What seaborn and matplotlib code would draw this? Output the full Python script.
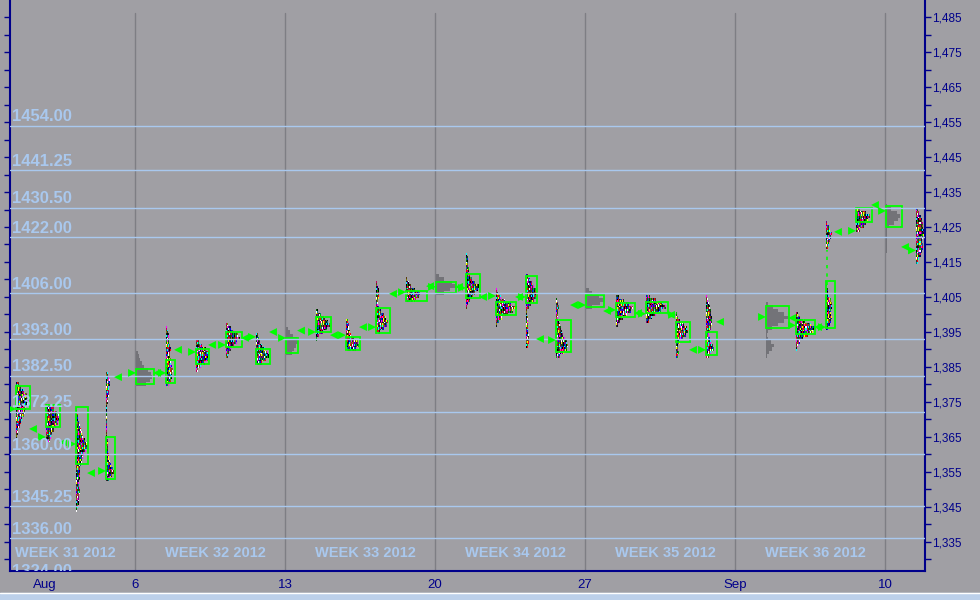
import numpy as np
import pandas as pd
import matplotlib
matplotlib.use('Agg')
import matplotlib.pyplot as plt
import seaborn as sns
from matplotlib.patches import Rectangle
from matplotlib.lines import Line2D
from matplotlib.ticker import FixedLocator, FuncFormatter

# ---- data --------------------------------------------------------------
# one trading session per slot (slot 1 = Aug 1 2012); slot 24 (Labor Day) is empty
slots = [0, 1, 2, 3, 4, 5, 6, 7, 8, 9, 10, 11, 12, 13, 14, 15,
         16, 17, 18, 19, 20, 21, 22, 23, 25, 26, 27, 28, 29, 30]
# gray = composite/overnight profile drawn without letters
gray_session = [False, False, False, False, True, False, False, False, False, True,
                False, False, False, False, True, False, False, False, False, True,
                False, False, False, False, True, False, False, False, True, False]
# lowest price of each profile (1 point rows)
prof_low = [1364, 1363, 1344, 1353, 1380, 1380, 1384, 1388, 1386, 1389,
            1393, 1390, 1395, 1404, 1406, 1402, 1397, 1391, 1388, 1402,
            1397, 1398, 1388, 1388, 1388, 1390, 1396, 1424, 1418, 1415]
# TPO count per price row, bottom up
tpo_counts = [
    [1, 1, 2, 2, 4, 5, 6, 8, 9, 10, 12, 13, 12, 11, 8, 5, 3],
    [2, 4, 5, 6, 7, 9, 11, 12, 12, 10, 7, 3],
    [1, 2, 3, 3, 3, 4, 4, 3, 3, 4, 4, 4, 4, 5, 6, 7, 8, 10, 12, 11, 9, 7, 6, 5, 4, 3, 2, 2, 1],
    [3, 6, 8, 7, 5, 4, 3, 3, 2, 2, 2, 2, 1, 1, 1, 1, 1, 1, 1, 1, 1, 1, 2, 2, 3, 3, 3, 4, 4, 3, 2],
    [10, 14, 16, 15, 12, 8, 6, 4, 3, 2],
    [3, 5, 6, 6, 7, 6, 5, 5, 4, 4, 5, 4, 3, 3, 3, 2, 1],
    [2, 5, 9, 12, 13, 13, 10, 6, 3],
    [2, 3, 5, 8, 11, 14, 12, 8, 5, 2],
    [6, 10, 13, 12, 9, 6, 4, 3, 2],
    [6, 8, 10, 12, 11, 7, 4, 2],
    [1, 3, 7, 11, 14, 12, 9, 5, 2],
    [10, 13, 12, 8, 5, 4, 3, 3, 2],
    [4, 8, 11, 12, 10, 8, 5, 3, 2, 2, 3, 3, 3, 2, 1],
    [10, 13, 14, 9, 5, 3, 1],
    [8, 14, 20, 16, 8, 3],
    [1, 2, 4, 7, 9, 12, 13, 9, 6, 4, 3, 3, 2, 2, 2, 1],
    [1, 3, 6, 11, 16, 20, 14, 9, 5, 2, 1],
    [2, 3, 3, 3, 2, 2, 2, 2, 2, 1, 1, 3, 5, 8, 10, 11, 10, 8, 6, 4, 2],
    [4, 8, 11, 12, 11, 9, 7, 6, 5, 4, 3, 2, 2, 2, 3, 2, 1],
    [6, 14, 18, 13, 6, 3],
    [2, 4, 7, 11, 15, 17, 13, 8, 3],
    [3, 6, 10, 15, 20, 17, 10, 4],
    [2, 3, 2, 2, 4, 7, 10, 12, 11, 8, 4, 2, 1],
    [3, 5, 8, 7, 5, 4, 3, 4, 5, 6, 6, 6, 5, 5, 4, 3, 2, 1],
    [1, 3, 6, 8, 5, 2, 1, 2, 6, 12, 18, 22, 18, 12, 7, 2],
    [1, 2, 4, 7, 11, 16, 18, 14, 9, 4, 2],
    [2, 4, 5, 6, 5, 5, 6, 6, 5, 3, 2, 2, 1, 0, 0, 0, 0, 0, 0, 0, 0, 0, 0, 2, 3, 4, 5, 6, 4, 3, 1],
    [4, 8, 10, 12, 14, 10, 4],
    [1, 1, 1, 1, 1, 1, 1, 3, 8, 12, 14, 11, 5, 1],
    [2, 3, 4, 5, 6, 6, 5, 6, 7, 7, 6, 6, 5, 4, 3, 2],
]
# value area (green boxes)
va_low = [1373.0, 1367.9, 1357.3, 1353.0, 1380.1, 1380.4, 1385.9, 1390.7, 1385.9, 1389.0,
          1395.0, 1389.9, 1394.7, 1403.9, 1406.2, 1404.7, 1399.9, 1403.3, 1389.3, 1402.1,
          1399.3, 1400.4, 1392.1, 1388.4, 1396.1, 1394.4, 1396.1, 1426.4, 1425.0, np.nan]
va_high = [1379.6, 1374.1, 1373.6, 1365.0, 1384.4, 1387.0, 1390.1, 1395.0, 1390.1, 1393.3,
           1399.3, 1393.6, 1401.9, 1406.7, 1409.3, 1411.6, 1403.6, 1411.0, 1398.4, 1405.6,
           1403.3, 1403.6, 1397.9, 1395.0, 1402.4, 1398.4, 1409.6, 1430.4, 1431.0, np.nan]
va_tpos = [14, 14, 12, 9, 18, 9, 13, 16, 14, 12, 15, 14, 14, 21, 20, 14, 20, 11, 15, 18,
           19, 22, 14, 11, 23, 19, 9, 16, 16, 0]
# open / close markers
open_px = [1373.0, 1365.0, 1363.0, 1355.3, 1383.3, 1383.3, 1389.3, 1391.3, 1393.6, 1393.3,
           1395.0, 1394.1, 1396.4, 1406.4, 1407.9, 1407.6, 1405.3, 1405.0, 1392.7, 1402.7,
           1401.3, 1400.2, 1399.9, 1389.9, 1399.3, 1396.9, 1396.4, 1423.9, 1429.6, 1418.3]
close_px = [1367.3, 1363.5, 1354.7, 1382.1, 1383.3, 1389.9, 1391.3, 1393.3, 1395.0, 1395.4,
            1394.1, 1396.4, 1405.9, 1408.1, 1407.9, 1405.0, 1405.0, 1393.0, 1402.7, 1401.0,
            1400.4, 1399.9, 1389.9, 1397.9, 1399.0, 1396.4, 1423.6, 1431.3, 1419.3, np.nan]

level_prices = [1454.00, 1441.25, 1430.50, 1422.00, 1406.00, 1393.00,
                1382.50, 1372.25, 1360.00, 1345.25, 1336.00, 1324.00]
week_labels = ['WEEK 31 2012', 'WEEK 32 2012', 'WEEK 33 2012',
               'WEEK 34 2012', 'WEEK 35 2012', 'WEEK 36 2012']
week_start_slots = [0, 5, 10, 15, 20, 25]
week_line_slots = [4, 9, 14, 19, 24, 29]
date_tick_slots = [1, 4, 9, 14, 19, 24, 29]
date_tick_labels = ['Aug', '6', '13', '20', '27', 'Sep', '10']
price_ticks = [1335, 1345, 1355, 1365, 1375, 1385, 1395, 1405, 1415,
               1425, 1435, 1445, 1455, 1465, 1475, 1485]
price_minor = [1330, 1340, 1350, 1360, 1370, 1380, 1390, 1400, 1410,
               1420, 1430, 1440, 1450, 1460, 1470, 1480]

# ---- style -------------------------------------------------------------
bg = '#a09fa4'
navy = '#00008b'
pale = '#a9c8ee'
green = '#00ff00'
gray_prof = '#737378'
tpo_palette = ['#000000', '#ff00ff', '#ffff00', '#00ffff', '#0000ff', '#ffffff',
               '#1a1a1a', '#ff0000', '#006400', '#808000', '#800080', '#00c000',
               '#5a3a10', '#008080', '#000060', '#c00060', '#303030']

sns.set_style('white', {'axes.facecolor': bg, 'figure.facecolor': bg,
                        'axes.edgecolor': navy})
plt.rcParams['font.family'] = ['Liberation Sans', 'DejaVu Sans']

fig = plt.figure(figsize=(9.8, 6), dpi=100)
ax = fig.add_axes([10 / 980, 29 / 600, 915 / 980, 571 / 600])
ax.set_facecolor(bg)

px = 1 / 30  # one pixel in slot units
ax.set_xlim(-5 * px, 30 + 10 * px)
ax.set_ylim(1326.71, 1489.86)

# horizontal reference levels + labels
for lvl in level_prices:
    ax.axhline(lvl, color=pale, lw=1, zorder=5)
    ax.text(-3 * px, lvl + 0.4, f'{lvl:.2f}', ha='left', va='bottom', color=pale,
            fontsize=12, fontweight='bold', zorder=6, clip_on=True)

# week separators
for s in week_line_slots:
    ax.axvline(s, ymin=0, ymax=1 - 13 / 571, color='#7e7e84', lw=1, zorder=1)
for s, lab in zip(week_start_slots, week_labels):
    ax.text(s, 1331.9, lab, ha='left', va='center', color=pale,
            fontsize=10.5, fontweight='bold', zorder=6)

# TPO profiles
gray_rgba = matplotlib.colors.to_rgba(gray_prof)
pal_rgba = [matplotlib.colors.to_rgba(c) for c in tpo_palette]
sub = 2
for k, (s, low, counts, gray) in enumerate(zip(slots, prof_low, tpo_counts, gray_session)):
    n = len(counts)
    W = max(counts)
    img = np.zeros((n * sub, W, 4))
    for i, cnt in enumerate(counts):
        for j in range(sub):
            r = i * sub + j
            for c in range(cnt):
                if gray:
                    col = gray_rgba
                else:
                    col = pal_rgba[(c * 7 + r * 3 + (c * r) % 5 + k * 11) % len(pal_rgba)]
                img[n * sub - 1 - r, c] = col
    x0 = s + px
    ax.imshow(img, extent=[x0, x0 + W * px, low - 0.5, low - 0.5 + n],
              origin='upper', aspect='auto', interpolation='nearest', zorder=3)
    # single-print gaps shown dashed
    zero = [i for i, c in enumerate(counts) if c == 0]
    if zero:
        ax.plot([x0 + 0.5 * px] * 2, [low + zero[0] - 0.5, low + zero[-1] + 0.5],
                color=green, lw=1.2, ls=(0, (2, 3)), zorder=4)

# value-area boxes
for s, lo, hi, w in zip(slots, va_low, va_high, va_tpos):
    if np.isnan(lo):
        continue
    ax.add_patch(Rectangle((s + px, lo), w * px, hi - lo, fill=False,
                           ec=green, lw=1.3, zorder=4))

# open / close markers
marks = pd.DataFrame({
    'x': [s - 3 * px for s in slots] + [s + (w + 4) * px for s, w in zip(slots, va_tpos)],
    'price': open_px + close_px,
    'kind': ['open'] * len(slots) + ['close'] * len(slots),
}).dropna()
sns.scatterplot(data=marks, x='x', y='price', style='kind',
                markers={'open': '>', 'close': '<'}, color=green,
                s=32, linewidth=0, legend=False, ax=ax, zorder=5)
ax.set_xlabel('')
ax.set_ylabel('')

# axes, ticks
for side in ['left', 'right', 'bottom']:
    ax.spines[side].set_color(navy)
    ax.spines[side].set_linewidth(1.5)
ax.spines['top'].set_visible(False)

ax.set_xticks(date_tick_slots)
ax.set_xticklabels(date_tick_labels)
ax.yaxis.set_major_locator(FixedLocator(price_ticks))
ax.yaxis.set_minor_locator(FixedLocator(price_minor))
ax.yaxis.set_major_formatter(FuncFormatter(lambda v, p: f'{v:,.0f}'))
ax.tick_params(axis='y', which='both', left=True, right=True, labelleft=False,
               labelright=True, direction='out', length=4, width=1, color=navy,
               labelcolor=navy, labelsize=8.5, pad=1)
ax.tick_params(axis='x', direction='out', length=4, width=1, color=navy,
               labelcolor=navy, labelsize=9.5, pad=2)

# bottom status strip
fig.add_artist(Rectangle((0, 0), 1, 7 / 600, transform=fig.transFigure,
                         color='#bcd0ea', zorder=0))
fig.add_artist(Line2D([0, 1], [7.5 / 600] * 2, transform=fig.transFigure,
                      color='white', lw=1))

fig.savefig('out.png', dpi=100, facecolor=bg)
